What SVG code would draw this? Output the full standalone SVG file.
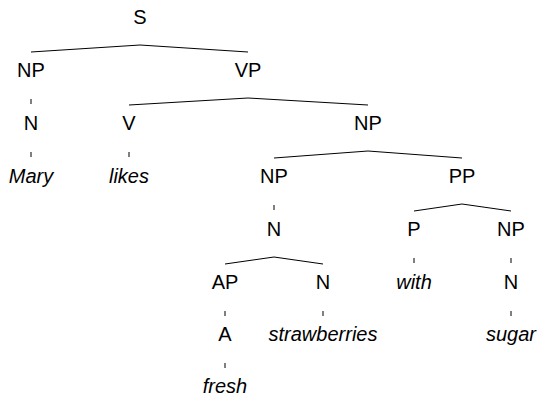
<svg xmlns="http://www.w3.org/2000/svg" width="540" height="396" viewBox="0 0 540 396">
  <style>
    .lbl { font-family: "Liberation Sans", Arial, sans-serif; font-size: 20px; fill: #000; text-anchor: middle; }
    .word { font-style: italic; }
    .edge { fill: none; stroke: #000; stroke-width: 1; }
  </style>
  <rect width="540" height="396" fill="#fff"/>

  <!-- parse tree edges: branching lines and unary ticks -->
  <g id="connectors">
    <polyline class="edge" points="31,52 140,45 248,52"/>
    <line class="edge" x1="31" y1="99" x2="31" y2="104"/>
    <polyline class="edge" points="129,105 248,98 368,105"/>
    <line class="edge" x1="31" y1="152" x2="31" y2="157"/>
    <line class="edge" x1="129" y1="152" x2="129" y2="157"/>
    <polyline class="edge" points="274,158 368,151 462,158"/>
    <line class="edge" x1="274" y1="205" x2="274" y2="210"/>
    <polyline class="edge" points="414,211 462,204 511,211"/>
    <polyline class="edge" points="225,264 274,257 323,264"/>
    <line class="edge" x1="414" y1="258" x2="414" y2="263"/>
    <line class="edge" x1="511" y1="258" x2="511" y2="263"/>
    <line class="edge" x1="225" y1="311" x2="225" y2="316"/>
    <line class="edge" x1="323" y1="311" x2="323" y2="316"/>
    <line class="edge" x1="511" y1="311" x2="511" y2="316"/>
    <line class="edge" x1="225" y1="363" x2="225" y2="368"/>
  </g>

  <g id="S"><text class="lbl" x="140" y="24">S</text></g>
  <g id="NP-subj"><text class="lbl" x="31" y="77">NP</text></g>
  <g id="VP"><text class="lbl" x="248" y="77">VP</text></g>
  <g id="N-subj"><text class="lbl" x="31" y="130">N</text></g>
  <g id="V"><text class="lbl" x="129" y="130">V</text></g>
  <g id="NP-obj"><text class="lbl" x="368" y="130">NP</text></g>
  <g id="Mary"><text class="lbl word" x="31" y="183">Mary</text></g>
  <g id="likes"><text class="lbl word" x="129" y="183">likes</text></g>
  <g id="NP-head"><text class="lbl" x="274" y="183">NP</text></g>
  <g id="PP"><text class="lbl" x="462" y="183">PP</text></g>
  <g id="N-head"><text class="lbl" x="274" y="236">N</text></g>
  <g id="P"><text class="lbl" x="414" y="236">P</text></g>
  <g id="NP-pobj"><text class="lbl" x="511" y="236">NP</text></g>
  <g id="AP"><text class="lbl" x="225" y="289">AP</text></g>
  <g id="N-noun"><text class="lbl" x="323" y="289">N</text></g>
  <g id="with"><text class="lbl word" x="414" y="289">with</text></g>
  <g id="N-pobj"><text class="lbl" x="511" y="289">N</text></g>
  <g id="A"><text class="lbl" x="225" y="341">A</text></g>
  <g id="strawberries"><text class="lbl word" x="323" y="341">strawberries</text></g>
  <g id="sugar"><text class="lbl word" x="511" y="341">sugar</text></g>
  <g id="fresh"><text class="lbl word" x="225" y="393">fresh</text></g>
</svg>
